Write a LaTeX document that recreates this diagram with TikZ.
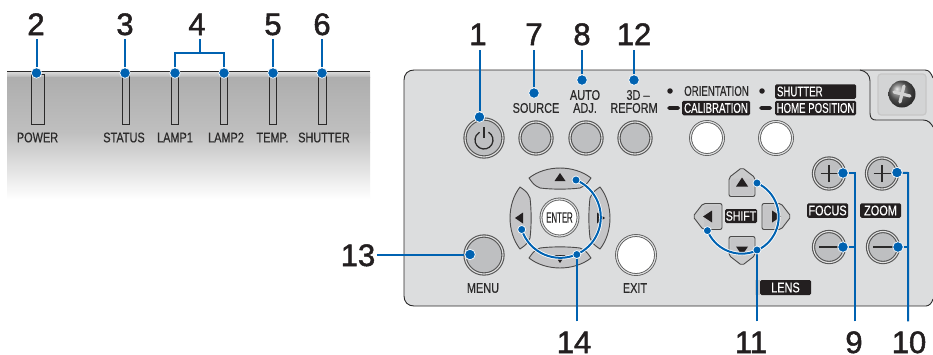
\documentclass[tikz,border=0pt]{standalone}
\usepackage{fontspec}
\setmainfont{Liberation Sans}
\newfontfamily\narrowf[FakeStretch=0.78,FakeBold=0.4]{Liberation Sans}
\newfontfamily\tightf[FakeStretch=0.69,FakeBold=0.4]{Liberation Sans}
\newfontfamily\enterf[FakeStretch=0.52,FakeBold=0.4]{Liberation Sans}
\newfontfamily\numf[FakeBold=1.6]{Liberation Sans}
\usetikzlibrary{calc}
\definecolor{lead}{HTML}{0062B1}
\definecolor{panelc}{HTML}{DCDDDE}
\definecolor{keyc}{HTML}{BEBFC1}
\definecolor{ink}{HTML}{2B2A2A}
\definecolor{boxc}{HTML}{231F20}
\pgfdeclarelayer{fg}
\pgfsetlayers{main,fg}
\tikzset{
  numlabel/.style={font=\numf\fontsize{31}{31}\selectfont,text=boxc,inner xsep=0pt,inner ysep=4pt,text height=22pt,text depth=0pt},
  lownum/.style={numlabel,inner ysep=0pt},
  small/.style={font=\narrowf\fontsize{14}{14}\selectfont,text=ink,inner sep=0pt},
  dot/.style={circle,fill=lead,draw=white,line width=.7pt,inner sep=0pt,minimum size=10.5pt},
  leader/.style={draw=lead,line width=2pt},
  lowleader/.style={leader,shorten <=9.5pt},
  slot/.style={rectangle,draw=ink,line width=.8pt,inner sep=0pt,minimum height=50pt},
  graybtn/.style={circle,draw=ink!80,double=panelc!70!black!30!white,double distance=1.1pt,line width=1.1pt,fill=keyc,inner sep=0pt},
  whitebtn/.style={circle,draw=ink!80,double=panelc,double distance=1.2pt,line width=.8pt,fill=white,inner sep=0pt},
  blackbox/.style={rectangle,rounded corners=1.5pt,fill=boxc,text=white,font=\narrowf\fontsize{14}{14}\selectfont,inner sep=0pt,minimum height=14.5pt},
  bullet/.style={circle,fill=boxc,inner sep=0pt,minimum size=5.5pt},
  dashmark/.style={rectangle,rounded corners=1.8pt,fill=boxc,inner sep=0pt,minimum width=13pt,minimum height=3.6pt},
  keyface/.style={fill=#1,draw=ink!85,line width=.9pt},
  arrowmark/.style={fill=boxc},
}
\begin{document}
\begin{tikzpicture}[x=1pt,y=-1pt]
\useasboundingbox (0,0) rectangle (933,354);
\fill[white] (0,0) rectangle (933,354);

% left indicator panel
\shade[top color=white!60!gray!60,bottom color=gray!58!white] (7,71) rectangle (370,77);
\shade[top color=black!32,bottom color=black!25] (7,77) rectangle (370,132);
\shade[top color=black!25,bottom color=white] (7,132) rectangle (370,199);
\draw[ink,line width=.9pt] (7,71) -- (370,71);
\node[slot,minimum width=13pt] (s2) at (37.5,99) {};
\node[slot,minimum width=7.5pt] (s3) at (125.7,99) {};
\node[slot,minimum width=7.5pt] (s4a) at (175,99) {};
\node[slot,minimum width=7.5pt] (s4b) at (224,99) {};
\node[slot,minimum width=7.5pt] (s5) at (273,99) {};
\node[slot,minimum width=7.5pt] (s6) at (322.3,99) {};
\node[small] (t2) at (37.5,137.5) {POWER};
\node[small] (t3) at (124,137.5) {STATUS};
\node[small] (t4a) at (175,137.5) {LAMP1};
\node[small] (t4b) at (226,137.5) {LAMP2};
\node[small] (t5) at (272.5,137.5) {TEMP.};
\node[small] (t6) at (324,137.5) {SHUTTER};

% main panel
\fill[panelc] (933,78) .. controls (931,73) and (929,70) .. (925,70) -- (414,70)
  .. controls (408,70) and (404,74) .. (404,80) -- (404,296)
  .. controls (404,302) and (408,306) .. (414,306) -- (926,306)
  .. controls (929,306) and (932,303) .. (933,299) -- cycle;
\draw[ink,line width=.9pt] (933,78) .. controls (931,73) and (929,70) .. (925,70) -- (414,70)
  .. controls (408,70) and (404,74) .. (404,80) -- (404,296)
  .. controls (404,302) and (408,306) .. (414,306) -- (926,306)
  .. controls (929,306) and (932,303) .. (933,299);
\draw[ink,line width=.9pt] (860,70) .. controls (866,71) and (870,75) .. (870,81) -- (870,113)
  .. controls (870,118) and (872,120) .. (876,120) -- (923,120) .. controls (928,120) and (931,123) .. (933,127);
\draw[black!22,fill=panelc!96!black,line width=1.2pt,rounded corners=3pt] (878,74) rectangle (926,115);
\node[circle,ball color=black!60,inner sep=0pt,minimum size=27pt] (screw) at (902,94) {};
\draw[black!18,line width=3.2pt,line cap=round] ([shift={(-8,-2)}]screw.center) -- ([shift={(8,2)}]screw.center);
\draw[black!18,line width=3.2pt,line cap=round] ([shift={(-2,8)}]screw.center) -- ([shift={(2,-8)}]screw.center);

% top row buttons
\node[graybtn,minimum size=38pt] (b1) at (484,138) {};
\node[graybtn,minimum size=32pt] (b7) at (536,138) {};
\node[graybtn,minimum size=32pt] (b8) at (586,138) {};
\node[graybtn,minimum size=32pt] (b12) at (635,138) {};
\node[whitebtn,minimum size=33pt] (bo) at (707,138) {};
\node[whitebtn,minimum size=33pt] (bs) at (776,138) {};
\draw[ink,line width=1.3pt] ([shift={(60:9pt)},yshift=-2pt]b1.center) arc[start angle=60,end angle=-240,radius=9pt];
\draw[ink,line width=1.3pt] ([yshift=11pt]b1.center) -- ([yshift=0pt]b1.center);

\node[small] (tsrc) at (536,108) {SOURCE};
\node[small] (tauto) at (585,95) {AUTO};
\node[small] (tadj) at (585,108) {ADJ.};
\node[small] (t3d) at (638,95) {3D –};
\node[small] (tref) at (634,108) {REFORM};

\node[bullet] (bu1) at (670,91) {};
\node[bullet] (bu2) at (762,91) {};
\node[dashmark] (da1) at (673.5,108) {};
\node[dashmark] (da2) at (765.5,108) {};
\node[small,font=\tightf\fontsize{14}{14}\selectfont] (tori) at (716.5,91) {ORIENTATION};
\node[blackbox,minimum width=68pt,font=\tightf\fontsize{14}{14}\selectfont] (tcal) at (716,108) {CALIBRATION};
\node[blackbox,minimum width=81pt,text width=77pt,align=left,font=\tightf\fontsize{14}{14}\selectfont] (tshu) at (815.5,91.5) {SHUTTER};
\node[blackbox,minimum width=81pt,font=\tightf\fontsize{14}{14}\selectfont] (thome) at (815.5,108) {HOME POSITION};

% direction keys
\begin{scope}[shift={(560,218)}]
\foreach \a in {0,90,180,270}{
  \begin{scope}[rotate=\a]
    \draw[keyface=keyc!90!white,line join=round] (-31,-40) .. controls (-14,-53.3) and (14,-53.3) .. (31,-40)
      .. controls (26,-33) .. (20,-30) .. controls (8,-28.5) and (-8,-28.5) .. (-20,-30)
      .. controls (-26,-33) .. cycle;
    \fill[arrowmark] (0,-45) -- (5.5,-37) -- (-5.5,-37) -- cycle;
  \end{scope}
}
\end{scope}
\node[whitebtn,minimum size=37pt,font=\enterf\fontsize{15}{15}\selectfont,text=ink] (ent) at (559.5,217.5) {ENTER};

% lens shift keys
\begin{scope}[shift={(742,216.5)}]
\foreach \a in {0,90,180,270}{
  \begin{scope}[rotate=\a]
    \draw[keyface=panelc!92!black,rounded corners=2pt] (0,-49) -- (13,-39) -- (13,-20) -- (-13,-20) -- (-13,-39) -- cycle;
    \fill[keyc!90!white,rounded corners=1.5pt] (-11,-38) rectangle (11,-21.5);
    \fill[arrowmark] (0,-39) -- (6,-30) -- (-6,-30) -- cycle;
  \end{scope}
}
\end{scope}
\node[blackbox,minimum width=32pt,minimum height=14pt,font=\narrowf\fontsize{13.5}{13.5}\selectfont] (tshift) at (741,216) {SHIFT};

% lower buttons
\node[graybtn,minimum size=38pt] (b13) at (484,255) {};
\node[whitebtn,minimum size=39pt] (bex) at (636,255) {};
\node[graybtn,minimum size=31pt] (b9p) at (829,173.5) {};
\node[graybtn,minimum size=31pt] (b10p) at (882,173.5) {};
\node[graybtn,minimum size=31pt] (b9m) at (829,247) {};
\node[graybtn,minimum size=31pt] (b10m) at (883,247) {};
\draw[ink,line width=1.6pt] ([xshift=-8.5pt]b9p.center) -- ([xshift=8.5pt]b9p.center) ([yshift=-8.5pt]b9p.center) -- ([yshift=8.5pt]b9p.center);
\draw[ink,line width=1.6pt] ([xshift=-8.5pt]b10p.center) -- ([xshift=8.5pt]b10p.center) ([yshift=-8.5pt]b10p.center) -- ([yshift=8.5pt]b10p.center);
\draw[ink,line width=2.2pt] ([xshift=-10pt]b9m.center) -- ([xshift=10pt]b9m.center);
\draw[ink,line width=2.2pt] ([xshift=-10pt]b10m.center) -- ([xshift=10pt]b10m.center);

\node[small] (tmenu) at (483,288) {MENU};
\node[small] (texit) at (635,288) {EXIT};
\node[blackbox,minimum width=41pt] (tfoc) at (827.5,210.5) {FOCUS};
\node[blackbox,minimum width=41pt] (tzoom) at (880.5,210.5) {ZOOM};
\fill[black!22] (755,280) rectangle (760,295);
\node[blackbox,minimum width=51pt,minimum height=15pt] (tlens) at (785.5,287.5) {LENS};

% numbers
\node[numlabel] (n2) at (36,24) {2};
\node[numlabel] (n3) at (125,24) {3};
\node[numlabel] (n4) at (197,24) {4};
\node[numlabel] (n5) at (273,24) {5};
\node[numlabel] (n6) at (322,24) {6};
\node[numlabel,inner ysep=5pt] (n1) at (478,34) {1};
\node[numlabel,inner ysep=5pt] (n7) at (534,34) {7};
\node[numlabel,inner ysep=5pt] (n8) at (582,34) {8};
\node[numlabel,inner ysep=5pt] (n12) at (634,34) {12};
\node[numlabel,inner xsep=2pt] (n13) at (358,255) {13};
\node[lownum] (n14) at (574,342) {14};
\node[lownum] (n11) at (751,342) {11};
\node[lownum] (n9) at (854,342) {9};
\node[lownum] (n10) at (909,342) {10};

% blue dots
\begin{pgfonlayer}{fg}
\node[dot] (d2) at (36.5,73) {};
\node[dot] (d3) at (125,73) {};
\node[dot] (d4a) at (175,73) {};
\node[dot] (d4b) at (224,73) {};
\node[dot] (d5) at (273,73) {};
\node[dot] (d6) at (322,73) {};
\node[dot] (d1) at (479.5,117) {};
\node[dot] (d7) at (534,93) {};
\node[dot] (d8) at (582,80) {};
\node[dot] (d12) at (634,80) {};
\node[dot] (d13) at (470,254.5) {};
\node[dot,minimum size=8pt] (d14u) at (576,180) {};
\node[dot,minimum size=8pt] (d14l) at (521.7,229.5) {};
\node[dot,minimum size=8pt] (d14) at (576.8,254.5) {};
\node[dot,minimum size=8pt] (d11u) at (757,183) {};
\node[dot,minimum size=8pt] (d11l) at (707.4,230.6) {};
\node[dot,minimum size=8pt] (d11) at (757,250) {};
\node[dot] (d9p) at (843,173) {};
\node[dot] (d10p) at (897,172.5) {};
\node[dot] (d9m) at (843,247) {};
\node[dot] (d10m) at (898,247) {};
\end{pgfonlayer}

% leaders
\coordinate (j4) at (200,53);
\coordinate (j9) at (855,173);
\coordinate (j10) at (908,173);
\foreach \d/\n in {d2/n2,d3/n3,d5/n5,d6/n6,d1/n1,d7/n7,d8/n8,d12/n12}{
  \draw[leader] (\d |- \n.south) -- (\d);
}
\draw[leader] (j4 |- n4.south) -- (j4);
\draw[leader] (d4a) |- (j4) -| (d4b);
\draw[leader] (n13.east |- d13) -- (d13);
\draw[white,line width=3.6pt] (d14u.center) arc[start angle=67.2,end angle=-162.5,radius=40.5pt];
\draw[leader] (d14u.center) arc[start angle=67.2,end angle=-162.5,radius=40.5pt];
\draw[white,line width=3.6pt] (d11u.center) arc[start angle=65.6,end angle=-158,radius=37pt];
\draw[leader] (d11u.center) arc[start angle=65.6,end angle=-158,radius=37pt];
\draw[lowleader] (d14 |- n14.north) -- (d14);
\draw[lowleader] (d11 |- n11.north) -- (d11);
\draw[lowleader] (j9 |- n9.north) -- (j9) -- (d9p);
\draw[leader] (j9 |- d9m) -- (d9m);
\draw[lowleader] (j10 |- n10.north) -- (j10) -- (d10p);
\draw[leader] (j10 |- d10m) -- (d10m);
\end{tikzpicture}
\end{document}
